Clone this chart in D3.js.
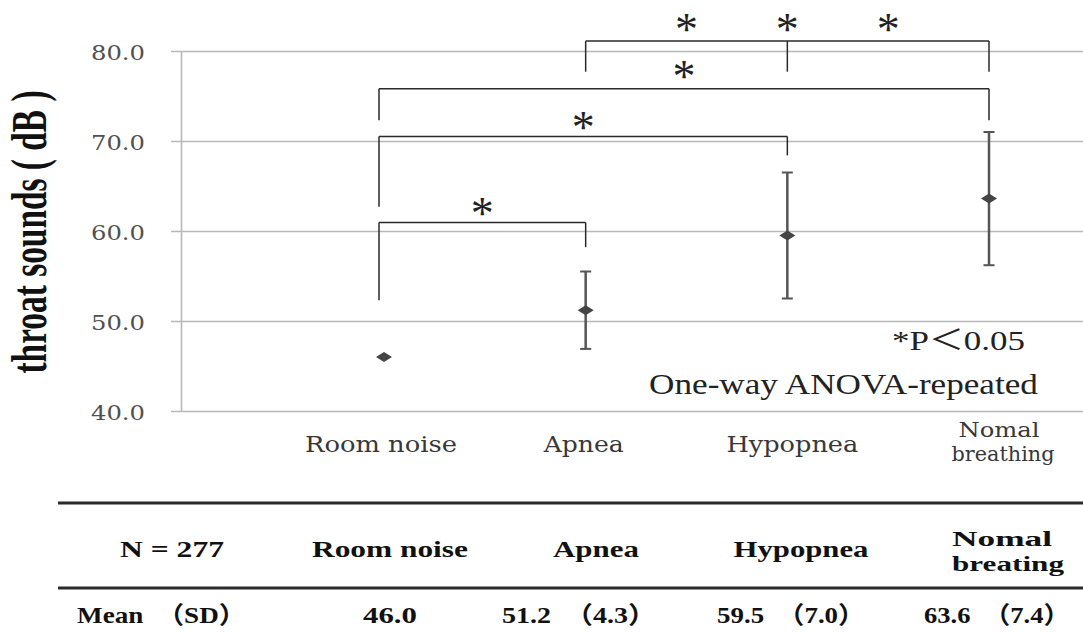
<!DOCTYPE html>
<html>
<head>
<meta charset="utf-8">
<script src="https://cdn.jsdelivr.net/npm/d3@7"></script>
<style>
  html, body { margin: 0; padding: 0; background: #fff; }
  svg { display: block; }
</style>
</head>
<body>
<svg id="chart" width="1083" height="632"></svg>
<script>
// ---- data ----
const categories = ["Room noise", "Apnea", "Hypopnea", "Nomal breathing"];
const axisLabels = [["Room noise"], ["Apnea"], ["Hypopnea"], ["Nomal", "breathing"]];
const means = [46.0, 51.2, 59.5, 63.6];
const sds = [null, 4.3, 7.0, 7.4];
const yTicks = [40, 50, 60, 70, 80];
const sampleSize = 277;
const tableHeader = ["Room noise", "Apnea", "Hypopnea", ["Nomal", "breating"]];
// significant pairwise comparisons (indices into categories)
const comparisons = [[0, 1], [0, 2], [0, 3], [1, 2], [1, 3], [2, 3]];
const pValueNote = "*P＜0.05";
const testNote = "One-way ANOVA-repeated";
const yTitle = "throat sounds ( dB )";

// ---- layout ----
const W = 1083, H = 632;
const axisX = 181;
const x = d3.scalePoint().domain(categories).range([384, 989]);
const y = d3.scaleLinear().domain([40, 80]).range([411, 51]);
const serif = "'Liberation Serif', 'Times New Roman', 'Noto Sans CJK JP', serif";
const wideSerif = "'DejaVu Serif', 'Liberation Serif', 'Noto Sans CJK JP', serif";

const svg = d3.select("#chart");
svg.append("rect").attr("width", W).attr("height", H).attr("fill", "#fff");

// text helper: anchored text, stretched horizontally to a target width
function label(parent, str, o) {
  const g = parent.append("g").attr("transform", `translate(${o.x},${o.y})`);
  const t = g.append("text")
    .attr("text-anchor", o.anchor || "middle")
    .attr("font-family", o.family || serif)
    .attr("font-size", o.size)
    .attr("font-weight", o.weight || "normal")
    .attr("fill", o.fill || "#222")
    .text(str);
  if (o.width) {
    const w = t.node().getComputedTextLength();
    t.attr("transform", `scale(${o.width / w},1)`);
  }
  return t;
}

// ---- y axis with gridlines ----
const yAxis = d3.axisLeft(y)
  .tickValues(yTicks)
  .tickFormat(d3.format(".1f"))
  .tickSizeInner(10)
  .tickSizeOuter(0);

const ax = svg.append("g").attr("transform", `translate(${axisX},0)`).call(yAxis);
ax.select(".domain").attr("stroke", "#b8b8b8").attr("stroke-width", 1.6);
ax.selectAll(".tick line").attr("stroke", "#b8b8b8").attr("stroke-width", 1.6)
  .attr("x1", -10).attr("x2", W - axisX);
ax.selectAll(".tick text").remove();
ax.selectAll(".tick").each(function(d) {
  label(d3.select(this), d3.format(".1f")(d), {
    x: 145 - axisX, y: 8, size: 21, anchor: "end", width: 54, fill: "#505050",
    family: wideSerif
  });
});

// y axis title
svg.append("text")
  .attr("transform", "translate(46,232) scale(1.5,1) rotate(-90)")
  .attr("text-anchor", "middle")
  .attr("font-family", serif)
  .attr("font-weight", "bold")
  .attr("font-size", 33)
  .attr("fill", "#111")
  .text(yTitle)
  .each(function() {
    const w = this.getComputedTextLength();
    d3.select(this).attr("font-size", 33 * 283 / w);
  });

// ---- category labels ----
const catLabelSpec = [
  [{ w: 152, dy: 452, size: 23 }],
  [{ w: 80, dy: 452, size: 23 }],
  [{ w: 132, dy: 452, size: 23 }],
  [{ w: 81, dy: 437, size: 20 }, { w: 103, dy: 461, size: 20 }]
];
const catOffset = [-3, -2, 5, 10];
axisLabels.forEach((lines, i) => {
  lines.forEach((ln, j) => {
    const s = catLabelSpec[i][j];
    label(svg, ln, {
      x: x(categories[i]) + catOffset[i] + (j === 1 ? 4 : 0),
      y: s.dy, size: s.size, width: s.w, fill: "#383838", family: wideSerif
    });
  });
});

// ---- significance brackets ----
// bar level and leg ends are given in the y-axis units
const bracketGroups = [
  { pairs: [[0, 1]], bar: 60.95, legs: [52.3, 58.2] },
  { pairs: [[0, 2]], bar: 70.5, legs: [62.7, 68.4] },
  { pairs: [[0, 3]], bar: 75.8, legs: [72.3, 72.3] },
  { pairs: [[1, 2], [1, 3], [2, 3]], bar: 81.1, legs: [77.7, 77.7, 77.7] }
];
const legX = i => x(categories[i]) + (i === 0 ? -5 : 0);
const br = svg.append("g").attr("stroke", "#2a2a2a").attr("stroke-width", 1.5).attr("fill", "none");
bracketGroups.forEach(g => {
  const idx = Array.from(new Set(g.pairs.flat())).sort();
  const x0 = legX(idx[0]), x1 = legX(idx[idx.length - 1]);
  br.append("line").attr("x1", x0).attr("x2", x1).attr("y1", y(g.bar)).attr("y2", y(g.bar));
  idx.forEach((k, j) => {
    br.append("line").attr("x1", legX(k)).attr("x2", legX(k))
      .attr("y1", y(g.bar)).attr("y2", y(g.legs[j]));
  });
});

// stars: one per significant comparison, above its bracket bar
const starLevel = (a, b) =>
  bracketGroups.find(g => g.pairs.some(p => p[0] === a && p[1] === b)).bar;
const starSize = 46;
comparisons.forEach(([a, b]) => {
  const lvl = starLevel(a, b);
  const sx = (legX(a) + legX(b)) / 2;
  const lift = lvl > 75 ? 18 : 15;
  svg.append("text")
    .attr("x", sx).attr("y", y(lvl) - lift + 0.47 * starSize)
    .attr("text-anchor", "middle")
    .attr("font-family", serif)
    .attr("font-size", starSize)
    .attr("fill", "#222")
    .text("*");
});

// ---- error bars and mean markers ----
const eb = svg.append("g").attr("stroke", "#555").attr("fill", "none");
means.forEach((m, i) => {
  const cx = x(categories[i]);
  if (sds[i] != null) {
    eb.append("line").attr("x1", cx).attr("x2", cx)
      .attr("y1", y(m + sds[i])).attr("y2", y(m - sds[i])).attr("stroke-width", 2.5);
    [m + sds[i], m - sds[i]].forEach(v => {
      eb.append("line").attr("x1", cx - 5.5).attr("x2", cx + 5.5)
        .attr("y1", y(v)).attr("y2", y(v)).attr("stroke-width", 2);
    });
  }
});
svg.append("g").selectAll("path").data(means).join("path")
  .attr("d", "M-8,0L0,-5L8,0L0,5Z")
  .attr("transform", (d, i) => `translate(${x(categories[i])},${y(d)})`)
  .attr("fill", "#444");

// ---- notes ----
label(svg, pValueNote, { x: 958.5, y: 350, size: 28, width: 133, fill: "#222" });
label(svg, testNote, { x: 843.5, y: 394, size: 29, width: 389, fill: "#222" });

// ---- summary table ----
const tbl = svg.append("g");
[503, 588].forEach(ly => {
  tbl.append("line").attr("x1", 58).attr("x2", W).attr("y1", ly).attr("y2", ly)
    .attr("stroke", "#2b2b2b").attr("stroke-width", 3);
});
const bold = { size: 24, weight: "bold", fill: "#111" };
label(tbl, `N = ${sampleSize}`, { ...bold, x: 172, y: 557, width: 104 });
const headSpec = [
  [{ cx: 390, y: 557, w: 156, size: 24 }],
  [{ cx: 596, y: 557, w: 86, size: 24 }],
  [{ cx: 801, y: 557, w: 135, size: 24 }],
  [{ cx: 1002, y: 546, w: 100, size: 21 }, { cx: 1008, y: 571, w: 112, size: 21 }]
];
tableHeader.forEach((h, i) => {
  const lines = Array.isArray(h) ? h : [h];
  lines.forEach((ln, j) => {
    const s = headSpec[i][j];
    label(tbl, ln, { ...bold, size: s.size, x: s.cx, y: s.y, width: s.w });
  });
});
label(tbl, "Mean　（SD）", { ...bold, x: 161.5, y: 623, width: 169 });
const rowSpec = [{ cx: 390, w: 54 }, { cx: 579, w: 154 }, { cx: 791, w: 148 }, { cx: 997, w: 146 }];
means.forEach((m, i) => {
  const txt = sds[i] == null ? d3.format(".1f")(m)
    : `${d3.format(".1f")(m)}　（${d3.format(".1f")(sds[i])}）`;
  label(tbl, txt, { ...bold, x: rowSpec[i].cx, y: 623, width: rowSpec[i].w });
});
</script>
</body>
</html>
